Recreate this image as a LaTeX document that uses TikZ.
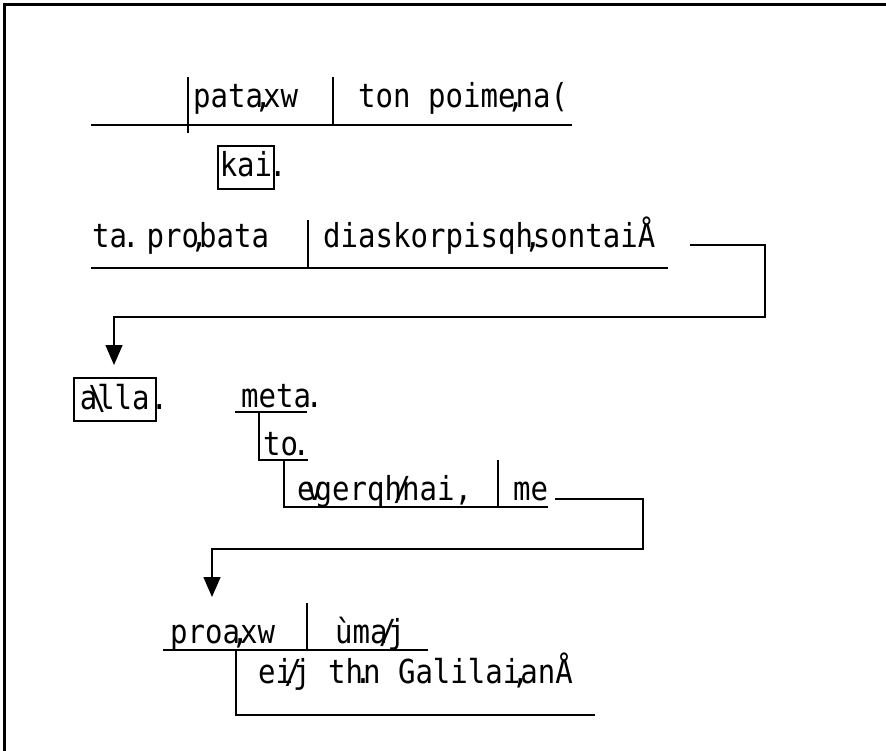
\documentclass[tikz,border=0pt]{standalone}
\usepackage{fontspec}
\newfontfamily\dfont[FakeStretch=0.88]{DejaVu Sans Mono}
\usetikzlibrary{arrows.meta}
\newcommand\zw[1]{\makebox[0pt][c]{#1}}
\newcommand\pd{\makebox[2pt][l]{\kern-5pt.}}
\begin{document}
\begin{tikzpicture}[x=1pt,y=-1pt,
  txt/.style={inner sep=0pt, anchor=base west, font=\dfont\fontsize{33}{36}\selectfont},
  dot/.style={txt, xshift=-6pt},
  ln/.style={line width=1.5pt},
  boxw/.style={txt, draw, line width=1.5pt, inner xsep=2pt, inner ysep=4pt, text height=27pt, text depth=8pt},
  conn/.style={line width=1.5pt, -{Triangle[length=20pt,width=17pt]}}]
\useasboundingbox (0,0) rectangle (886,751);
\draw[line width=2.5pt] (4.5,751) -- (4.5,4.5) -- (886,4.5);
% line 1
\node[txt] (v1) at (193,108) {pata\zw{,}xw};
\node[txt] (o1) at (358,108) {ton poime\zw{,}na(};
\coordinate (l1a) at (91,125);
\coordinate (l1b) at (572,125);
\draw[ln] (l1a) -- (l1b);
\draw[ln] (188,77) -- (188,133);
\draw[ln] (333,77) -- (333,125);
% kai
\node[boxw] (kai) at (217,177) {kai};
\node[dot] (kaip) at (kai.base east) {.};
% line 3
\node[txt] (s3) at (92,248) {ta\pd{} pro\zw{,}bata};
\node[txt] (v3) at (323,248) {diaskorpisqh\zw{,}sontaiÅ};
\coordinate (l3a) at (91,268);
\coordinate (l3b) at (668,268);
\draw[ln] (l3a) -- (l3b);
\draw[ln] (308,220) -- (308,268);
\coordinate (c1s) at (690,245);
\coordinate (c1t) at (114,365);
% alla
\node[boxw, minimum width=82pt] (alla) at (73,409) {a\zw{\char`\\}lla};
\node[dot] (allap) at (alla.base east) {.};
\draw[conn] (c1s) -- (765,245) -- (765,317) -| (c1t);
% meta to
\node[txt] (meta) at (241,407) {meta};
\node[dot] (metap) at (meta.base east) {.};
\draw[ln] (235,412) -- (307,412);
\draw[ln] (259,412) -- (259,460) -- (308,460);
\node[txt] (to) at (263,455) {to};
\node[dot] (top) at (to.base east) {.};
\draw[ln] (284,460) -- (284,507) -- (548,507);
\node[txt] (eg) at (297,500) {e\zw{v}gerqh\zw{/}nai,};
\node[txt] (me) at (513,500) {me};
\draw[ln] (498,460) -- (498,507);
\coordinate (c2s) at (555,499);
\coordinate (c2t) at (212,597);
\draw[conn] (c2s) -- (643,499) -- (643,549) -| (c2t);
% line 5
\node[txt] (pr) at (170,643) {proa\zw{,}xw};
\node[txt] (um) at (335,643) {ùma\zw{/}j};
\draw[ln] (163,650) -- (428,650);
\draw[ln] (307,603) -- (307,650);
\draw[ln] (236,650) -- (236,715) -- (595,715);
\node[txt] (ei) at (258,683) {ei\zw{/}j th\zw{.}n Galilai\zw{,}anÅ};
\end{tikzpicture}
\end{document}
